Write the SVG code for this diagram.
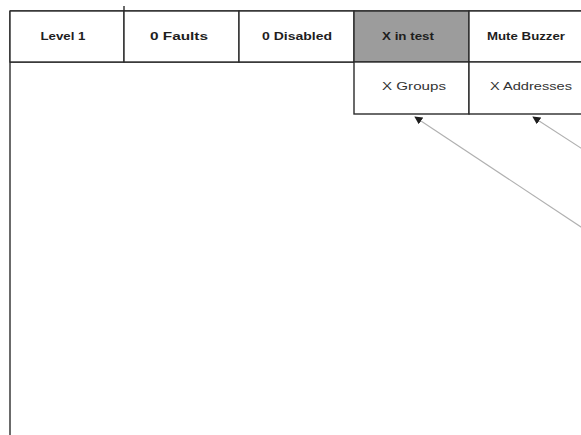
<svg xmlns="http://www.w3.org/2000/svg" width="581" height="435" viewBox="0 0 581 435">
  <style>
    .frame { stroke: #2b2b2b; stroke-width: 1.4; fill: none; }
    .cell { fill: #ffffff; stroke: #2b2b2b; stroke-width: 1.4; }
    .cell.active { fill: #9c9c9c; }
    .label { font-family: "Liberation Sans", Arial, sans-serif; font-size: 10px; font-weight: bold; fill: #1e1e1e; text-anchor: middle; }
    .sub { font-weight: normal; fill: #333333; }
    .conn { stroke: #b0b0b0; stroke-width: 1.1; fill: none; }
  </style>
  <defs>
    <marker id="arrow" viewBox="0 0 10 10" refX="9" refY="5" markerWidth="8" markerHeight="8" markerUnits="userSpaceOnUse" orient="auto">
      <path d="M0,0 L10,5 L0,10 z" fill="#1e1e1e"/>
    </marker>
  </defs>

  <rect width="581" height="435" fill="#ffffff"/>

  <!-- outer panel edges -->
  <g id="panel">
    <line class="frame" x1="10" y1="11" x2="10" y2="435"/>
    <line class="frame" x1="10" y1="11" x2="581" y2="11"/>
    <line class="frame" x1="10" y1="62" x2="581" y2="62"/>
  </g>

  <!-- top status bar -->
  <g id="level">
    <rect class="cell" x="10" y="11" width="114" height="51"/>
    <text class="label" x="63" y="40" textLength="45" lengthAdjust="spacingAndGlyphs">Level 1</text>
  </g>
  <line class="frame" x1="124" y1="6" x2="124" y2="11"/>
  <g id="faults">
    <rect class="cell" x="124" y="11" width="115" height="51"/>
    <text class="label" x="179" y="40" textLength="58" lengthAdjust="spacingAndGlyphs">0 Faults</text>
  </g>
  <g id="disabled">
    <rect class="cell" x="239" y="11" width="115" height="51"/>
    <text class="label" x="297" y="40" textLength="70" lengthAdjust="spacingAndGlyphs">0 Disabled</text>
  </g>
  <g id="in-test">
    <rect class="cell active" x="354" y="11" width="115" height="51"/>
    <text class="label" x="408" y="40" textLength="52" lengthAdjust="spacingAndGlyphs">X in test</text>
  </g>
  <g id="mute-buzzer">
    <rect class="cell" x="469" y="11" width="130" height="51"/>
    <text class="label" x="526" y="40" textLength="78" lengthAdjust="spacingAndGlyphs">Mute Buzzer</text>
  </g>

  <!-- drop-down row -->
  <g id="groups">
    <rect class="cell" x="354" y="62" width="115" height="52"/>
    <text class="label sub" x="414" y="90" textLength="64" lengthAdjust="spacingAndGlyphs">X Groups</text>
  </g>
  <g id="addresses">
    <rect class="cell" x="469" y="62" width="130" height="52"/>
    <text class="label sub" x="531" y="90" textLength="82" lengthAdjust="spacingAndGlyphs">X Addresses</text>
  </g>

  <!-- callout connectors -->
  <g id="connectors">
    <line class="conn" x1="590" y1="233" x2="415" y2="117" marker-end="url(#arrow)"/>
    <line class="conn" x1="590" y1="154" x2="533" y2="117" marker-end="url(#arrow)"/>
  </g>
</svg>
